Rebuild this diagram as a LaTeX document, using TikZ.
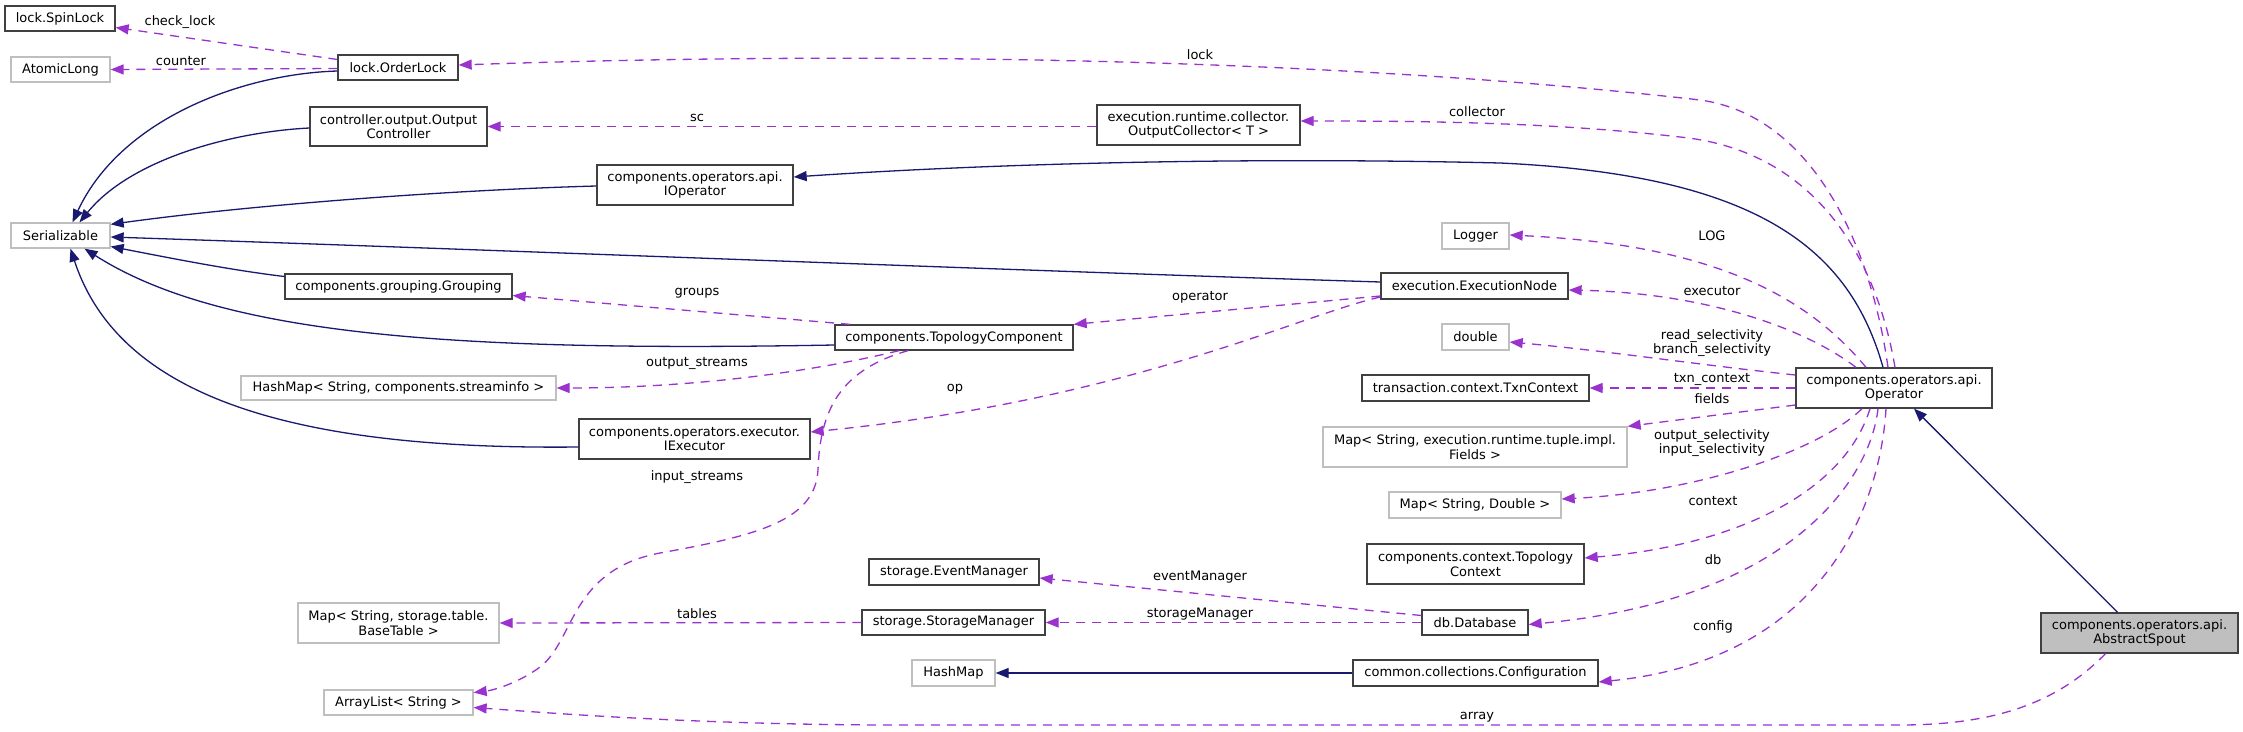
\documentclass[tikz,border=0pt]{standalone}
\usepackage{fontspec}
\setmainfont{DejaVu Sans}
\usetikzlibrary{arrows.meta}
\definecolor{inhcol}{HTML}{191970}
\definecolor{usecol}{HTML}{9A32CD}
\definecolor{docborder}{HTML}{404040}
\definecolor{undocborder}{HTML}{BFBFBF}
\definecolor{spoutfill}{HTML}{BFBFBF}
\tikzset{
  base/.style={rectangle, font=\fontsize{13pt}{14.5pt}\selectfont, align=center,
    inner xsep=6pt, inner ysep=0pt, line width=1.3pt, fill=white},
  doc/.style={base, draw=docborder},
  undoc/.style={base, draw=undocborder},
  one/.style={minimum height=25pt},
  two/.style={minimum height=40pt},
  inh/.style={draw=inhcol, line width=1.3pt, -{Triangle[length=13pt,width=10pt]}},
  use/.style={draw=usecol, line width=1.3pt, dash pattern=on 9pt off 7pt,
    -{Triangle[length=13pt,width=10pt]}},
  lbl/.style={font=\fontsize{13pt}{14.5pt}\selectfont, align=center, inner sep=0pt},
}
\begin{document}
\begin{tikzpicture}[x=1pt,y=-1pt]
\fill[white] (0,0) rectangle (2243,731);
\useasboundingbox (0,0) rectangle (2243,731);

% nodes
\node[doc, one, minimum width=110pt] (spin) at (60,18.5) {lock.SpinLock};
\node[undoc, one, minimum width=99pt] (atomic) at (60.5,69.5) {AtomicLong};
\node[undoc, one, minimum width=99pt] (serial) at (60.5,235.5) {Serializable};
\node[doc, one, minimum width=120pt] (orderlock) at (398,67.5) {lock.OrderLock};
\node[doc, two, minimum width=177pt, minimum height=39pt] (outctrl) at (398.5,126.5) {controller.output.Output\\Controller};
\node[doc, one, minimum width=227pt] (grouping) at (398.5,286.5) {components.grouping.Grouping};
\node[undoc, one, minimum width=315pt, minimum height=24pt] (hmstream) at (398.5,388) {HashMap< String, components.streaminfo >};
\node[undoc, two, minimum width=201pt] (mapbase) at (398.5,623) {Map< String, storage.table.\\BaseTable >};
\node[undoc, one, minimum width=149pt] (arraylist) at (398.5,702.5) {ArrayList< String >};
\node[doc, two, minimum width=196pt] (ioperator) at (695,185) {components.operators.api.\\IOperator};
\node[doc, two, minimum width=231pt] (iexec) at (694.5,439) {components.operators.executor.\\IExecutor};
\node[doc, one, minimum width=238pt] (topocomp) at (954,337.5) {components.TopologyComponent};
\node[doc, one, minimum width=170pt, minimum height=26pt] (eventmgr) at (954,572) {storage.EventManager};
\node[doc, one, minimum width=183pt] (storagemgr) at (953.5,622.5) {storage.StorageManager};
\node[undoc, one, minimum width=83pt, minimum height=26pt] (hashmap) at (953.5,673) {HashMap};
\node[doc, two, minimum width=203pt] (outcoll) at (1198.5,125) {execution.runtime.collector.\\OutputCollector< T >};
\node[doc, one, minimum width=187pt, minimum height=26pt] (execnode) at (1474.5,286) {execution.ExecutionNode};
\node[undoc, one, minimum width=67pt, minimum height=26pt] (logger) at (1475.5,236) {Logger};
\node[undoc, one, minimum width=67pt, minimum height=26pt] (double) at (1475.5,337) {double};
\node[doc, one, minimum width=227pt, minimum height=26pt] (txn) at (1475.5,388) {transaction.context.TxnContext};
\node[undoc, two, minimum width=304pt] (mapfields) at (1475,447) {Map< String, execution.runtime.tuple.impl.\\Fields >};
\node[undoc, one, minimum width=172pt, minimum height=26pt] (mapdouble) at (1475,505) {Map< String, Double >};
\node[doc, two, minimum width=217pt] (topoctx) at (1475.5,564) {components.context.Topology\\Context};
\node[doc, one, minimum width=106pt] (database) at (1475,622.5) {db.Database};
\node[doc, one, minimum width=245pt, minimum height=26pt] (config) at (1475.5,673) {common.collections.Configuration};
\node[doc, two, minimum width=196pt] (op) at (1894,388) {components.operators.api.\\Operator};
\node[doc, two, minimum width=197pt, fill=spoutfill] (spout) at (2139.5,633) {components.operators.api.\\AbstractSpout};

% inheritance
\draw[inh] ([yshift=-3.5pt]orderlock.west) .. controls (240,74) and (120,120) .. ([xshift=12pt]serial.north);
\draw[inh] ([yshift=-1.5pt]outctrl.west) .. controls (230,132) and (130,160) .. ([xshift=19pt]serial.north);
\draw[inh] ([yshift=-1pt]ioperator.west) .. controls (450,190) and (250,205) .. ([yshift=-2pt]serial.north east);
\draw[inh] ([yshift=4pt]execnode.west) .. controls (1000,270) and (500,250) .. ([yshift=-1.5pt]serial.east);
\draw[inh] ([yshift=10pt]grouping.west) .. controls (230,270) and (170,258) .. ([yshift=-11pt]serial.east);
\draw[inh] ([yshift=-7.5pt]topocomp.west) .. controls (450,352) and (220,335) .. ([xshift=24pt]serial.south);
\draw[inh] ([yshift=-8pt]iexec.west) .. controls (300,450) and (120,400) .. ([xshift=10pt]serial.south);
\draw[inh] ([xshift=-11pt]op.north) .. controls (1850,250) and (1760,175) .. (1500,163)
  .. controls (1250,157) and (1000,163) .. ([yshift=8pt]ioperator.east);
\draw[inh] ([xshift=-22pt]spout.north) -- ([xshift=20pt]op.south);
\draw[inh] (config.west) -- (hashmap.east);

% usage
\draw[use] ([yshift=8pt]orderlock.west) -- ([yshift=-9pt]spin.east);
\node[lbl] (lcheck) at (180,22) {check\_lock};
\draw[use] ([yshift=-1pt]orderlock.west) -- (atomic.east);
\node[lbl] (lcounter) at (181,61) {counter};
\draw[use] ([xshift=-6pt]op.north) .. controls (1870,240) and (1810,115) .. (1700,100)
  .. controls (1350,60) and (900,50) .. ([yshift=2.5pt]orderlock.east);
\node[lbl] (llock) at (1200,55) {lock};
\draw[use] ([xshift=1pt]op.north) .. controls (1875,250) and (1810,150) .. (1680,137)
  .. controls (1550,122) and (1420,121) .. ([yshift=4pt]outcoll.east);
\node[lbl] (lcollector) at (1477,112) {collector};
\draw[use] ([yshift=-1.5pt]outcoll.west) -- (outctrl.east);
\node[lbl] (lsc) at (697,118) {sc};
\draw[use] ([xshift=-104pt]topocomp.north) -- ([yshift=-9pt]grouping.east);
\node[lbl] (lgroups) at (697,293) {groups};
\draw[use] ([yshift=-10pt]execnode.west) -- (topocomp.north east);
\node[lbl] (loperator) at (1200,297) {operator};
\draw[use] ([yshift=-11pt]execnode.west) .. controls (1300,315) and (1130,400) .. ([yshift=7pt]iexec.east);
\node[lbl] (lop) at (955,389) {op};
\draw[use] ([xshift=-55pt]topocomp.south) .. controls (820,370) and (700,388) .. (hmstream.east);
\node[lbl] (loutstreams) at (697,363) {output\_streams};
\draw[use] ([xshift=-46pt]topocomp.south) .. controls (840,370) and (820,410) .. (818,470)
  .. controls (815,520) and (760,535) .. (660,553)
  .. controls (570,570) and (575,640) .. (540,667)
  .. controls (520,682) and (495,690) .. ([yshift=10pt]arraylist.east);
\node[lbl] (linstreams) at (697,477) {input\_streams};
\draw[use] (storagemgr.west) -- (mapbase.east);
\node[lbl] (ltables) at (697,614) {tables};
\draw[use] ([yshift=7pt]database.west) -- ([yshift=-6pt]eventmgr.east);
\node[lbl] (levent) at (1200,577) {eventManager};
\draw[use] (database.west) -- (storagemgr.east);
\node[lbl] (lstorage) at (1200,614) {storageManager};
\draw[use] ([xshift=-28pt]op.north) .. controls (1810,300) and (1720,245) .. ([yshift=1pt]logger.east);
\node[lbl] (llog) at (1712,236) {LOG};
\draw[use] ([xshift=-38pt]op.north) .. controls (1800,325) and (1700,293) .. ([yshift=-4pt]execnode.east);
\node[lbl] (lexecutor) at (1712,291) {executor};
\draw[use] ([yshift=13pt]op.west) .. controls (1700,365) and (1600,350) .. ([yshift=-5pt]double.east);
\node[lbl] (lsel) at (1712,343) {read\_selectivity\\branch\_selectivity};
\draw[use] (op.west) -- (txn.east);
\node[lbl] (ltxn) at (1712,379) {txn\_context};
\draw[use] ([yshift=-17pt]op.west) -- (mapfields.north east);
\node[lbl] (lfields) at (1712,399) {fields};
\draw[use] ([xshift=-32pt]op.south) .. controls (1820,450) and (1700,492) .. ([yshift=6pt]mapdouble.east);
\node[lbl] (lsel2) at (1712,443) {output\_selectivity\\input\_selectivity};
\draw[use] ([xshift=-24pt]op.south) .. controls (1845,490) and (1740,545) .. ([yshift=6pt]topoctx.east);
\node[lbl] (lcontext) at (1713,501) {context};
\draw[use] ([xshift=-16pt]op.south) .. controls (1870,480) and (1790,600) .. ([yshift=-2pt]database.east);
\node[lbl] (ldb) at (1713,560) {db};
\draw[use] ([xshift=-8pt]op.south) .. controls (1880,510) and (1820,660) .. ([yshift=-9pt]config.east);
\node[lbl] (lconfig) at (1713,627) {config};
\draw[use] ([xshift=-34pt]spout.south) .. controls (2060,700) and (2000,725) .. (1900,725)
  -- (900,725) .. controls (700,725) and (550,713) .. ([yshift=-5pt]arraylist.east);
\node[lbl] (larray) at (1477,717) {array};
\end{tikzpicture}
\end{document}
